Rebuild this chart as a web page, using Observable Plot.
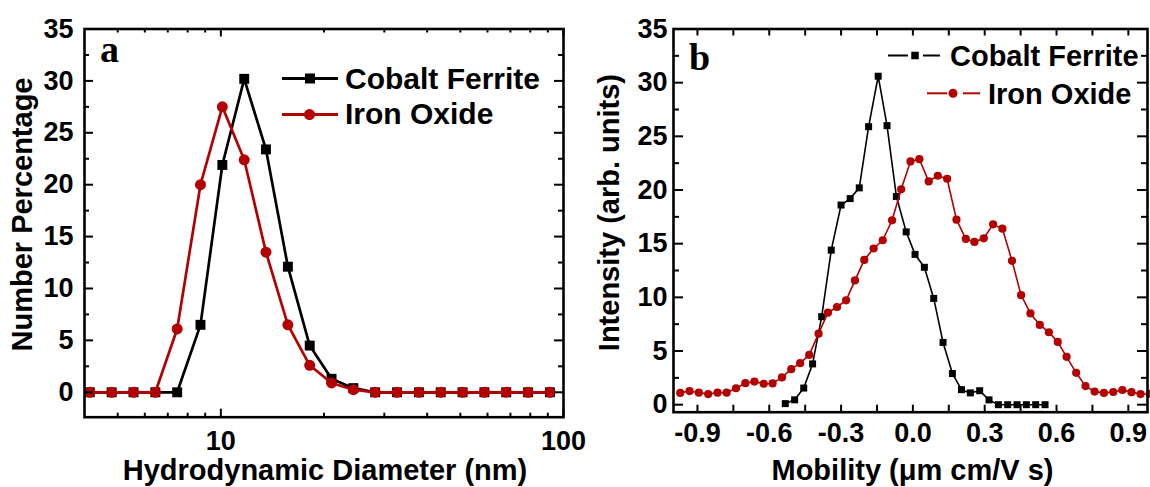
<!DOCTYPE html>
<html>
<head>
<meta charset="utf-8">
<script src="https://cdn.jsdelivr.net/npm/d3@7"></script>
<script src="https://cdn.jsdelivr.net/npm/@observablehq/plot@0.6"></script>
<style>
  html, body { margin: 0; padding: 0; background: #fff; }
  #wrap { position: relative; width: 1150px; height: 487px; overflow: hidden; background: #fff; }
  #wrap svg { position: absolute; top: 0; overflow: visible; }
</style>
</head>
<body>
<div id="wrap"></div>
<script>
// ---------------- Panel a: number distribution vs hydrodynamic diameter ----------------
const diameterNm = [4.145, 4.801, 5.560, 6.439, 7.456, 8.721, 10.10, 11.70, 13.54, 15.69, 18.17,
  21.04, 24.36, 28.21, 32.67, 37.84, 43.82, 50.75, 58.77, 68.06, 78.82, 91.28];
const cobaltNumberPct = [0, 0, 0, 0, 0, 6.5, 21.9, 30.2, 23.4, 12.1, 4.5, 1.3, 0.4, 0, 0, 0, 0, 0, 0, 0, 0, 0];
const ironNumberPct = [0, 0, 0, 0, 6.1, 20.0, 27.5, 22.4, 13.5, 6.5, 2.6, 0.9, 0.25, 0, 0, 0, 0, 0, 0, 0, 0, 0];

// ---------------- Panel b: intensity vs mobility ----------------
const cobaltMobility = [-0.533, -0.494, -0.456, -0.419, -0.381, -0.341, -0.300, -0.262, -0.224, -0.185,
  -0.145, -0.108, -0.069, -0.028, 0.009, 0.048, 0.087, 0.126, 0.165, 0.203, 0.240, 0.279, 0.318,
  0.357, 0.396, 0.435, 0.474, 0.513, 0.552];
const cobaltIntensity = [0.1, 0.45, 1.55, 3.8, 8.2, 14.4, 18.6, 19.2, 20.2, 25.9, 30.6, 26.0, 19.4,
  16.1, 14.0, 12.8, 9.9, 5.8, 2.9, 1.4, 1.1, 1.3, 0.45, 0, 0, 0, 0, 0, 0];
const ironMobility = [-0.972, -0.933, -0.894, -0.855, -0.816, -0.778, -0.739, -0.700, -0.662, -0.623,
  -0.586, -0.547, -0.508, -0.471, -0.433, -0.394, -0.355, -0.317, -0.279, -0.242, -0.203, -0.164,
  -0.126, -0.087, -0.049, -0.010, 0.027, 0.066, 0.104, 0.143, 0.182, 0.221, 0.257, 0.296, 0.335,
  0.374, 0.414, 0.452, 0.491, 0.530, 0.568, 0.605, 0.642, 0.682, 0.721, 0.759, 0.798, 0.837, 0.875,
  0.913, 0.951, 0.990];
const ironIntensity = [1.1, 1.27, 1.12, 0.99, 1.12, 1.12, 1.53, 2.0, 2.15, 1.95, 1.98, 2.54, 3.31,
  3.87, 4.64, 6.62, 8.57, 9.10, 9.72, 11.58, 13.49, 14.55, 15.32, 17.18, 20.06, 22.66, 22.87, 20.80,
  21.33, 21.05, 17.24, 15.44, 15.16, 15.5, 16.8, 16.4, 13.4, 10.2, 8.5, 7.43, 6.75, 5.85, 4.46, 2.97,
  1.73, 1.22, 1.1, 1.18, 1.37, 1.17, 0.99, 1.0];

// ---------------- Tick labels ----------------
const aXLabelTicks = [10, 100];
const aXMinorTicks = [5, 6, 7, 8, 9, 20, 30, 40, 50, 60, 70, 80, 90];
const yLabelTicks = [0, 5, 10, 15, 20, 25, 30, 35];
const yMinorTicks = [2.5, 7.5, 12.5, 17.5, 22.5, 27.5, 32.5];
const bXLabelTicks = [-0.9, -0.6, -0.3, 0.0, 0.3, 0.6, 0.9];
const bXAllTicks = [-0.9, -0.75, -0.6, -0.45, -0.3, -0.15, 0.0, 0.15, 0.3, 0.45, 0.6, 0.75, 0.9];

const seriesNames = ["Cobalt Ferrite", "Iron Oxide"];
const RED = "#b30000";
const FONT = "'Liberation Sans', Arial, Helvetica, sans-serif";

const tableA = diameterNm.map((d, i) => ({d, cobalt: cobaltNumberPct[i], iron: ironNumberPct[i]}));
const tableBC = cobaltMobility.map((m, i) => ({m, v: cobaltIntensity[i]}));
const tableBI = ironMobility.map((m, i) => ({m, v: ironIntensity[i]}));

function ticksX(vals, len, plotH, sw) {
  return [
    Plot.tickX(vals, {x: d => d, insetTop: plotH - len, stroke: "black", strokeWidth: sw}),
    Plot.tickX(vals, {x: d => d, insetBottom: plotH - len, stroke: "black", strokeWidth: sw})
  ];
}
function ticksY(vals, len, plotW, sw) {
  return [
    Plot.tickY(vals, {y: d => d, insetRight: plotW - len, stroke: "black", strokeWidth: sw}),
    Plot.tickY(vals, {y: d => d, insetLeft: plotW - len, stroke: "black", strokeWidth: sw})
  ];
}
const baseStyle = {fontFamily: FONT, color: "black", background: "transparent", overflow: "visible"};

// ---------------- Panel a ----------------
const A = {width: 600, height: 487, mL: 84, mR: 37, mT: 28.5, mB: 70.3};
const aPW = A.width - A.mL - A.mR, aPH = A.height - A.mT - A.mB;
const plotA = Plot.plot({
  width: A.width, height: A.height,
  marginLeft: A.mL, marginRight: A.mR, marginTop: A.mT, marginBottom: A.mB,
  style: baseStyle,
  x: {type: "log", domain: [4, 100]},
  y: {domain: [-2.4, 35]},
  marks: [
    Plot.line(tableA, {x: "d", y: "cobalt", stroke: "black", strokeWidth: 2.7}),
    Plot.dot(tableA, {x: "d", y: "cobalt", symbol: "square", r: 5.6, fill: "black", stroke: "none"}),
    Plot.line(tableA, {x: "d", y: "iron", stroke: RED, strokeWidth: 2.7}),
    Plot.dot(tableA, {x: "d", y: "iron", r: 5.5, fill: RED, stroke: "none"}),
    ...ticksX(aXLabelTicks, 8, aPH, 2),
    ...ticksX(aXMinorTicks, 4, aPH, 2),
    ...ticksY(yLabelTicks, 9, aPW, 2),
    ...ticksY(yMinorTicks, 5, aPW, 2),
    Plot.frame({stroke: "black", strokeWidth: 2.6}),
    Plot.axisX({ticks: aXLabelTicks, tickSize: 0, tickPadding: 14, fontSize: 27, fontWeight: "bold",
      tickFormat: d => String(d), label: null}),
    Plot.axisY({ticks: yLabelTicks, tickSize: 0, tickPadding: 11, fontSize: 27, fontWeight: "bold",
      tickFormat: d => String(d), label: null}),
    Plot.text(["Hydrodynamic Diameter (nm)"], {text: d => d, frameAnchor: "bottom", lineAnchor: "top",
      textAnchor: "middle", dy: 42, dx: 1, fontSize: 29, fontWeight: "bold"}),
    Plot.text(["Number Percentage"], {text: d => d, frameAnchor: "left", rotate: -90, textAnchor: "middle",
      lineAnchor: "middle", dx: -61.5, dy: -8.6, fontSize: 29, fontWeight: "bold"})
  ]
});
plotA.style.left = "0px";

// ---------------- Panel b ----------------
const B = {left: 580, width: 570, height: 487, mL: 93, mR: 3, mT: 28.5, mB: 75.3};
const bPW = B.width - B.mL - B.mR, bPH = B.height - B.mT - B.mB;
const plotB = Plot.plot({
  width: B.width, height: B.height,
  marginLeft: B.mL, marginRight: B.mR, marginTop: B.mT, marginBottom: B.mB,
  style: baseStyle,
  x: {domain: [-1.0, 0.98]},
  y: {domain: [-0.7, 35]},
  marks: [
    Plot.line(tableBC, {x: "m", y: "v", stroke: "black", strokeWidth: 1.6}),
    Plot.dot(tableBC, {x: "m", y: "v", symbol: "square", r: 3.95, fill: "black", stroke: "none"}),
    Plot.line(tableBI, {x: "m", y: "v", stroke: RED, strokeWidth: 1.6}),
    Plot.dot(tableBI, {x: "m", y: "v", r: 4.1, fill: RED, stroke: "none"}),
    ...ticksX(bXAllTicks, 7, bPH, 2),
    ...ticksY(yLabelTicks, 10, bPW, 2),
    ...ticksY(yMinorTicks, 6, bPW, 2),
    Plot.frame({stroke: "black", strokeWidth: 2.6}),
    Plot.axisX({ticks: bXLabelTicks, tickSize: 0, tickPadding: 11, fontSize: 27, fontWeight: "bold",
      tickFormat: d => d.toFixed(1), label: null}),
    Plot.axisY({ticks: yLabelTicks, tickSize: 0, tickPadding: 6, fontSize: 27, fontWeight: "bold",
      tickFormat: d => String(d), label: null}),
    Plot.text(["Mobility (\u03bcm cm/V s)"], {text: d => d, frameAnchor: "bottom", lineAnchor: "top",
      textAnchor: "middle", dy: 47, dx: 2, fontSize: 29, fontWeight: "bold"}),
    Plot.text(["Intensity (arb. units)"], {text: d => d, frameAnchor: "left", rotate: -90, textAnchor: "middle",
      lineAnchor: "middle", dx: -63.5, dy: -8, fontSize: 29, fontWeight: "bold"})
  ]
});
plotB.style.left = B.left + "px";

const wrap = document.getElementById("wrap");
wrap.appendChild(plotA);
wrap.appendChild(plotB);

// ---------------- Legends and panel letters (overlay) ----------------
const ov = d3.select(wrap).append("svg")
  .attr("width", 1150).attr("height", 487)
  .style("left", "0px").style("pointer-events", "none");

function legendRow(g, cfg) {
  cfg.segs.forEach(([x1, x2]) => g.append("line").attr("x1", x1).attr("x2", x2)
    .attr("y1", cfg.y).attr("y2", cfg.y).attr("stroke", cfg.color).attr("stroke-width", cfg.sw));
  if (cfg.symbol === "square") {
    g.append("rect").attr("x", cfg.mx - cfg.ms / 2).attr("y", cfg.y - cfg.ms / 2)
      .attr("width", cfg.ms).attr("height", cfg.ms).attr("fill", cfg.color);
  } else {
    g.append("circle").attr("cx", cfg.mx).attr("cy", cfg.y).attr("r", cfg.ms / 2).attr("fill", cfg.color);
  }
  g.append("text").attr("x", cfg.tx).attr("y", cfg.ty).text(cfg.label)
    .attr("font-family", FONT).attr("font-weight", "bold").attr("font-size", cfg.fs).attr("fill", "black");
}
// panel a legend
legendRow(ov, {label: seriesNames[0], color: "black", sw: 3, segs: [[282, 338]], symbol: "square",
  mx: 310, ms: 10, y: 78.5, tx: 345, ty: 88.5, fs: 30});
legendRow(ov, {label: seriesNames[1], color: RED, sw: 3, segs: [[282, 338]], symbol: "circle",
  mx: 309.5, ms: 11, y: 114.5, tx: 345, ty: 124, fs: 30});
// panel b legend
legendRow(ov, {label: seriesNames[0], color: "black", sw: 2, segs: [[888, 908], [923, 940]], symbol: "square",
  mx: 915, ms: 7.5, y: 55.5, tx: 950, ty: 65.5, fs: 29});
legendRow(ov, {label: seriesNames[1], color: RED, sw: 2, segs: [[927, 947], [963, 980]], symbol: "circle",
  mx: 953, ms: 9, y: 93.3, tx: 988, ty: 103.5, fs: 29});

// panel letters
ov.append("text").attr("x", 100).attr("y", 62).text("a")
  .attr("font-family", "'Liberation Serif', 'Times New Roman', serif").attr("font-weight", "bold")
  .attr("font-size", 38).attr("fill", "black");
ov.append("text").attr("x", 689).attr("y", 70).text("b")
  .attr("font-family", "'Liberation Serif', 'Times New Roman', serif").attr("font-weight", "bold")
  .attr("font-size", 38).attr("fill", "black");
</script>
</body>
</html>
